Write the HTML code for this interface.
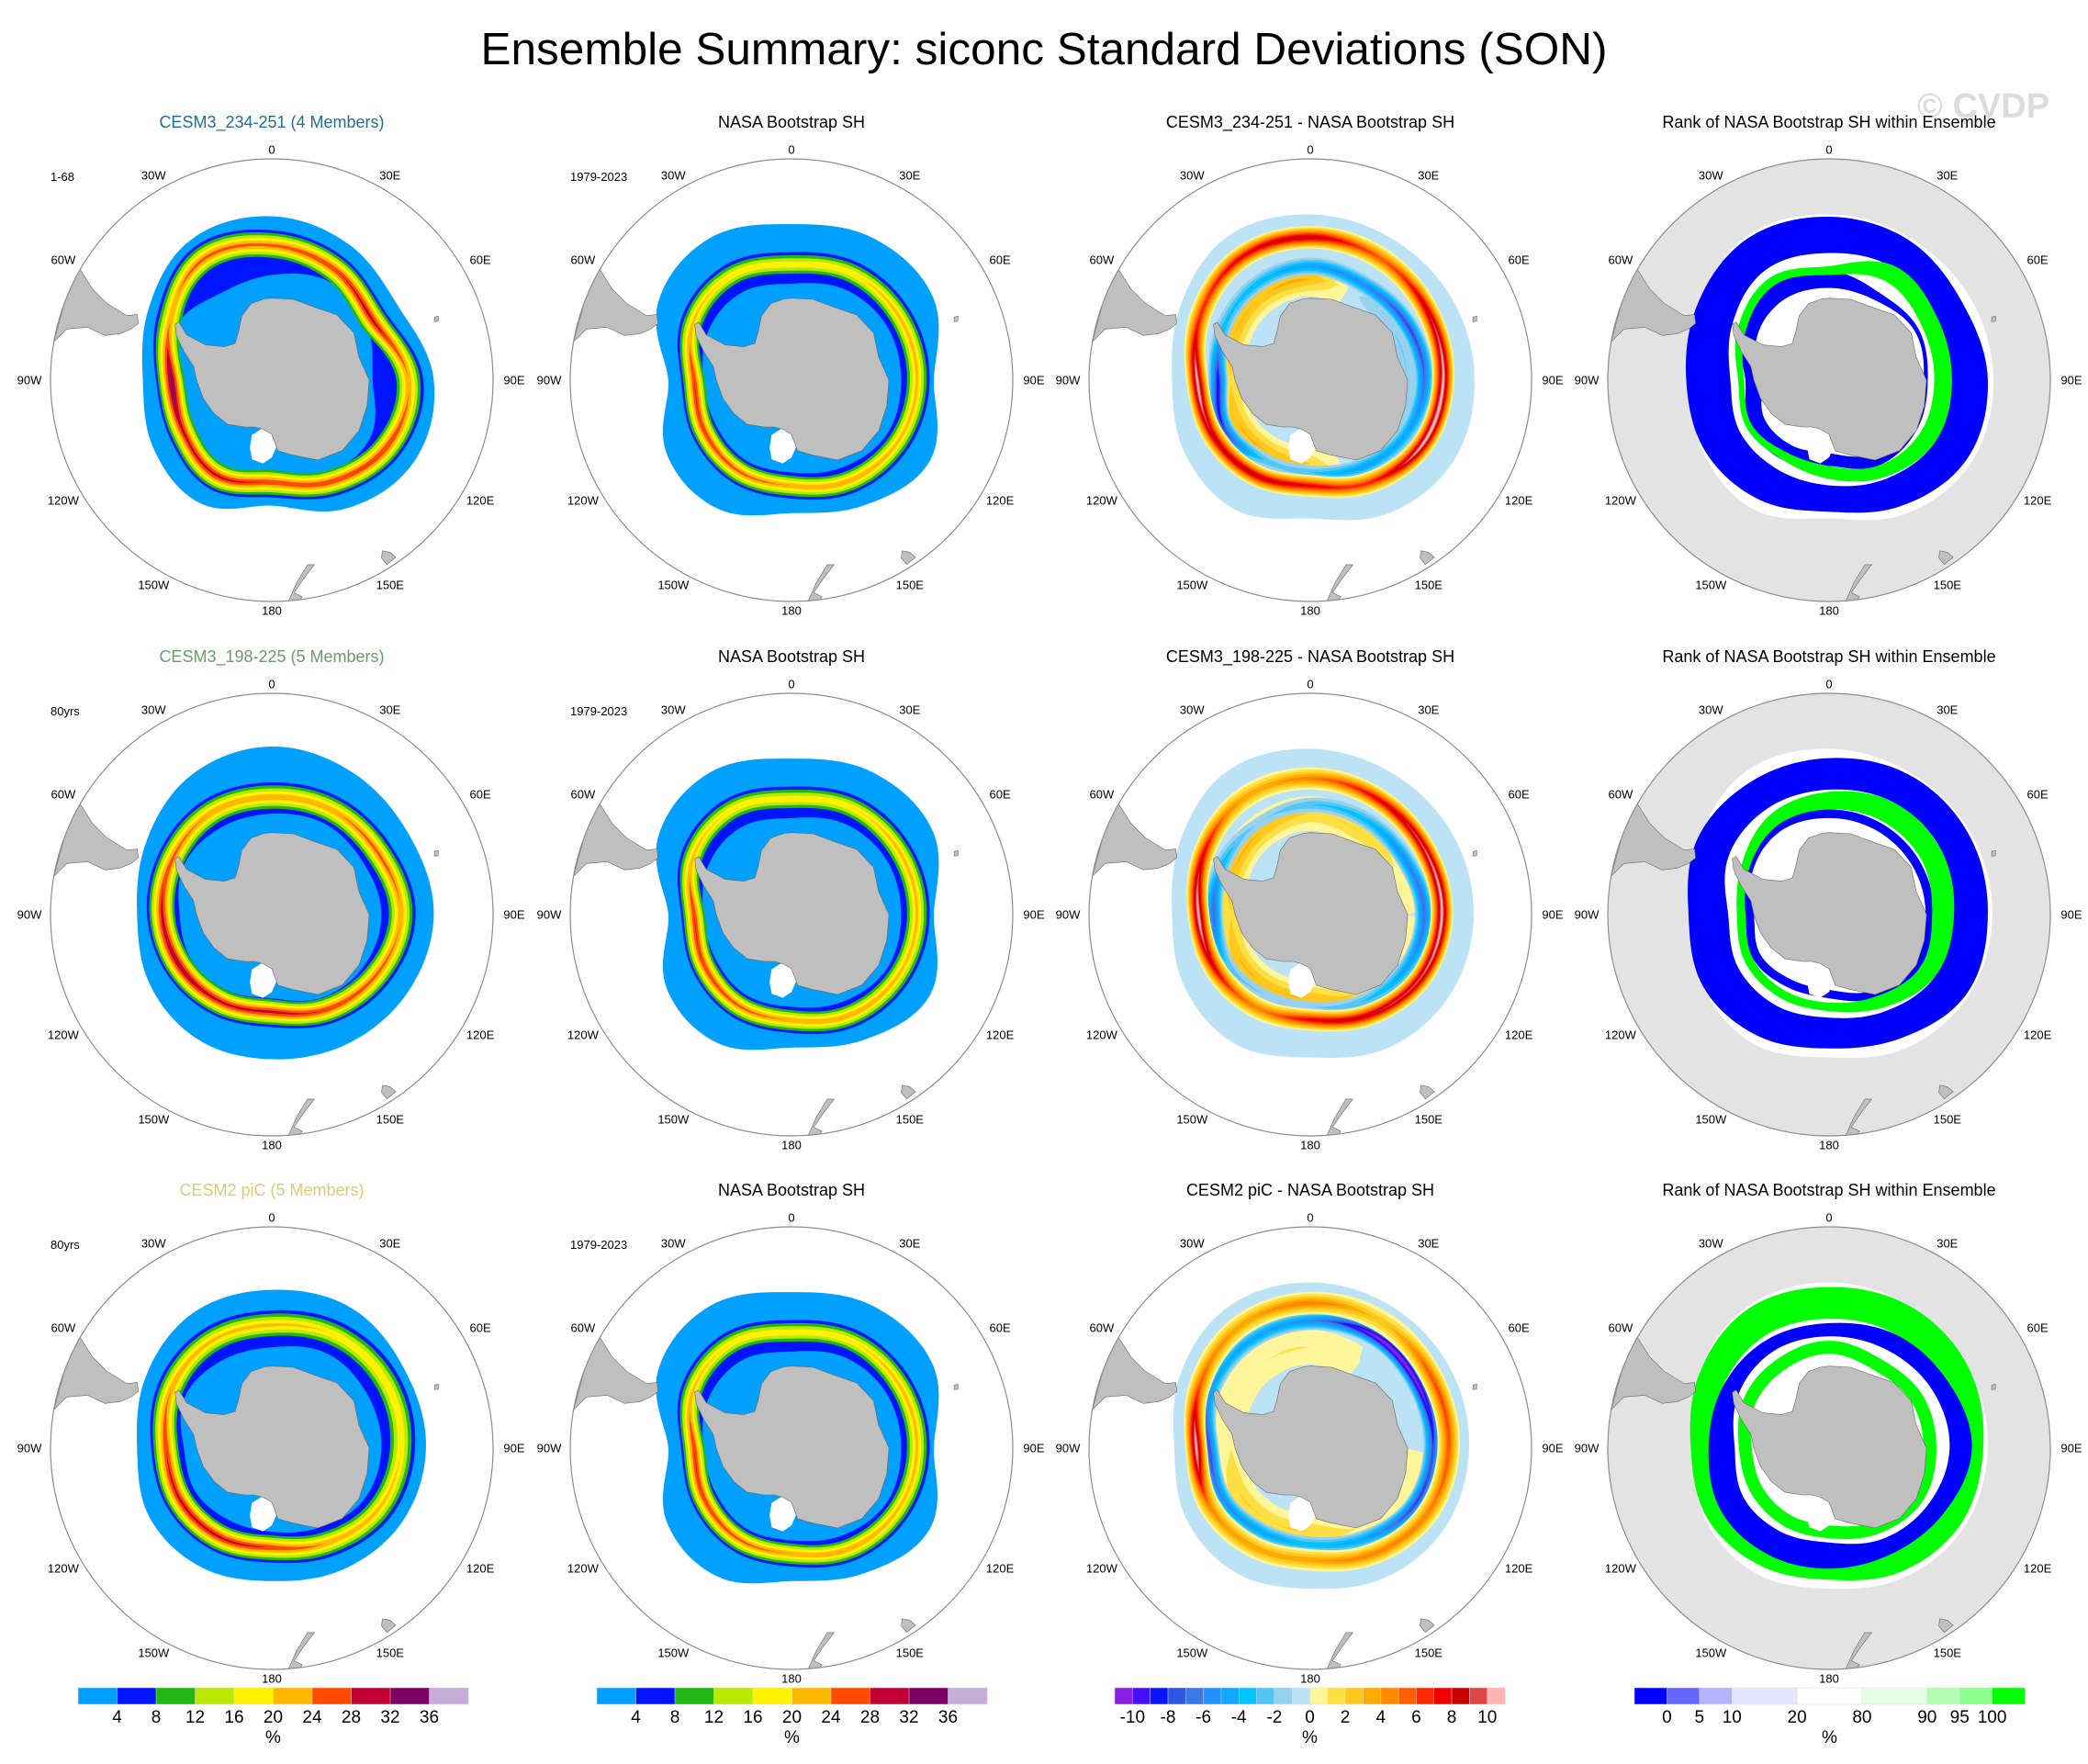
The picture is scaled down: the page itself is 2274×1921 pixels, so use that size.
<!DOCTYPE html>
<html><head><meta charset="utf-8"><style>
html,body{margin:0;padding:0;background:#fff;}
svg{display:block;font-family:"Liberation Sans",Arial,sans-serif;}
</style></head><body>
<svg id="fig" width="2274" height="1921" viewBox="0 0 2274 1921" xmlns="http://www.w3.org/2000/svg">
<rect x="0" y="0" width="2274" height="1921" fill="#fff"/>
<text x="2160" y="128" text-anchor="middle" font-size="38" font-weight="bold" fill="#dcdcdc">© CVDP</text>
<text x="1137" y="70" text-anchor="middle" font-size="49.5" fill="#000">Ensemble Summary: siconc Standard Deviations (SON)</text>
<defs id="defs"></defs>
</svg>
<script>
// ---------- data (lat per longitude 0,30E,...,180,150W,...,30W) ----------
const lonGrid=[0,30,60,90,120,150,180,210,240,270,300,330];
const sdLevels=[4,8,12,16,20,24,28,32,36];
const sdColors=["#00a0ff","#0014ff","#22b814","#bbe800","#fff200","#ffb900","#ff4b00","#c10034","#7d0066","#c6aed8"];
const sdTickLabels=["4","8","12","16","20","24","28","32","36"];
const dfColors=["#8a1ee6","#4510f5","#0a14ff","#2d55e6","#3a78e8","#2390ff","#14a5ff","#00c3ff","#55c5f5","#96d2f0","#bce2f5","#fff59a","#ffe044","#ffc81e","#ffaa00","#ff8a00","#ff5f00","#ff2a00","#f00000","#c80000","#dc4646","#ffb4b4"];
const dfTickLabels=["-10","-8","-6","-4","-2","0","2","4","6","8","10"];
const rkColors=["#0000ff","#6666ff","#b3b3ff","#e5e5ff","#ffffff","#e5ffe5","#b3ffb3","#8cff8c","#00ff00"];
const rkUnits=[1,1,1,2,2,2,1,1,1];
const rkTickLabels=["0","5","10","20","80","90","95","100"];

const m1Edge=[-51.9,-53.6,-55.7,-52.3,-51.9,-55.3,-60.4,-56.6,-57.9,-59.6,-56.6,-52.3];
const m1Peak=[-58.3,-60.0,-62.2,-57.9,-58.7,-62.2,-65.7,-63.9,-65.7,-66.1,-62.2,-57.4];
const m1Val=[26,28,30,24,28,28,28,30,30,34,24,26];
const m1Inner=[-65,-63,-64,-66,-63,-64,-65,-66,-67,-67,-64,-66];
const m2Edge=[-51,-52,-53,-52.3,-53.5,-55,-56.1,-56,-57,-58.3,-56,-52.5];
const m2Peak=[-62.2,-61.5,-61,-59.6,-61.5,-64,-66.8,-66,-65,-64,-63,-62];
const m2Val=[24,24,26,24,26,28,30,30,32,30,26,24];
const m2Inner=[-66,-65,-65,-64,-65,-67,-70,-69,-68,-68,-66,-66];
const m3Edge=[-53.1,-52.5,-54,-54,-55,-57,-58.7,-57.5,-57,-58.3,-56,-53.5];
const m3Peak=[-60.9,-59.5,-59,-59.6,-61,-64,-66.3,-65.5,-65,-64.9,-62.5,-61];
const m3Val=[22,20,20,20,22,24,28,30,30,28,24,22];
const m3Inner=[-66,-64,-64,-64,-65,-68,-70,-70,-69,-69,-66,-66];
const obsEdge=[-53.6,-51.9,-51.9,-56.6,-52.7,-56.1,-58.7,-55.3,-56.1,-60.9,-54.0,-51.9];
const obsPeak=[-62.6,-61,-60.5,-60.4,-61,-62.5,-64.9,-65,-66,-66.8,-63,-61.5];
const obsVal=[20,20,22,22,22,24,24,26,28,28,22,20];
const obsInner=[-67,-65,-64,-64,-64,-66,-68,-68,-69,-69,-67,-66];
const weakPeak=[-66,-67,-67,-67,-67,-68,-70,-70,-70,-71,-69,-67];
const d1Edge=[-51.5,-52,-52,-51.8,-51.8,-54,-57.5,-55,-56,-57.5,-55,-51.5];
const d1PosPeak=[-56.5,-57,-58,-58.7,-59.5,-62,-64.9,-64,-63.5,-63.2,-60,-57];
const d1PosVal=[9,6,9,11,11,7,8,9,9,11,7,8];
const d1NegPeak=[-63,-64,-63.5,-63,-64,-66,-68,-68,-66.5,-68,-66,-64];
const d1NegVal=[-5,-6,-8,-7,-5,-5,-3,-3,-8,-9,-4,-4];
const d1WeakVal=[3,-1,-2,-2,-2,-1,2,3,3,2,3,3];
const d2Edge=[-51.5,-52,-52,-52,-52.5,-54,-56.5,-55,-56,-57.5,-55,-51.5];
const d2PosPeak=[-58,-58.5,-59,-59,-60,-62.5,-65,-64.5,-64,-63.5,-61,-58.5];
const d2PosVal=[5,8,10,11,10,9,8,5,8,11,8,4];
const d2NegPeak=[-64,-64,-64,-63,-64,-66,-68,-68,-67,-67,-66,-65];
const d2NegVal=[-3,-4,-6,-7,-5,-3,-2,-2,-3,-7,-4,-2];
const d2WeakVal=[2,2,1,0,1,2,3,3,3,2,3,3];
const d3Edge=[-51.5,-52,-52.5,-53,-53.5,-55,-57,-56,-56.5,-58,-55,-52];
const d3PosPeak=[-56,-56,-57,-57.5,-58.5,-61,-63.5,-63,-62.5,-63,-60,-57];
const d3PosVal=[5,3,6,6,5,5,4,4,5,11,6,4];
const d3NegPeak=[-60,-59.5,-60.5,-61,-62,-65,-67,-67,-66,-66,-63,-61];
const d3NegVal=[-6,-11,-11,-8,-8,-5,-4,-5,-6,-8,-5,-5];
const d3WeakVal=[1,0,0,0,1,1,2,2,2,1,1,1];
const k1BluePeak=[-56,-56,-57.5,-57,-57,-59.5,-62,-61.5,-61,-61.5,-59,-56];
const k1BlueHw=[4,3.5,3.5,4,4,3.5,3,4,4.5,5,4.5,4];
const k1GreenPeak=[-64,-61,-62.5,-63,-63,-65,-68,-69,-68,-69,-66,-63];
const k1GreenHw=[1,2,2,2,2,1.5,1.5,1,0.7,0.7,1,1];
const k1Blue2Peak=[-66,-67,-66,-67,-67,-68,-71,-70,-70,-72,-68,-66];
const k1Blue2Hw=[2,1,0.5,0.5,1,1.5,1.5,2,2,2,2,2];
const k2BluePeak=[-57,-56,-56,-57,-57,-60,-62,-61,-60.5,-61.5,-58.5,-57.5];
const k2BlueHw=[3.5,3.5,3.5,4,4,3.5,3.5,4,4.5,4.5,4,3.5];
const k2GreenPeak=[-63,-62,-62,-63,-63,-66,-68,-68,-68,-69,-67,-64];
const k2GreenHw=[2,2.5,2.5,2.5,2,1.5,1,1,1,1,1,1.5];
const k2Blue2Peak=[-66,-66,-66,-66,-66,-68,-71,-71,-70,-71,-68,-66];
const k2Blue2Hw=[1,1,1,1,1,1,1,1,1,1,1,1];
const k3BluePeak=[-62,-61,-60,-59,-61,-63,-64.5,-64,-63.5,-64.5,-63,-62];
const k3BlueHw=[1.5,2,2,2.5,2,2,3,3,3,3,2,1.5];
const k3GreenPeak=[-56,-55.5,-56,-57,-57.5,-59.5,-61,-60,-59.5,-60,-58,-56];
const k3GreenHw=[3.5,3.5,3.5,3,3,3,2,2,2.5,2.5,3,3.5];
const k3Green2Peak=[-66,-67,-66,-66,-66,-68,-70,-70,-70,-70,-68,-67];
const k3Green2Hw=[1.5,1.5,1.5,1.5,1.5,1.5,1.5,1.5,1.5,1.5,1.5,1.5];
const coastLon=[0,15,30,45,60,75,90,105,120,135,150,165,175,180,190,200,210,225,240,255,270,280,288,295,300,302,298,298,305,315,325,335,345,355];
const coastLat=[-70.4,-70,-69.8,-68,-67.4,-68.5,-66.8,-66.5,-66,-66.3,-68,-71.5,-73,-77,-78,-78,-77,-75,-74,-73,-72,-71,-68,-65,-63.5,-64,-67,-72,-76,-77.5,-76,-73,-71,-70.5];
const shelfLon=[176,180,186,194,198,200,192,182];
const shelfLat=[-74,-71.5,-70,-70.5,-73,-76,-78,-78];
const samLon=[-80,-76,-74,-75,-73,-70,-67,-64,-66,-65,-63,-60,-57];
const samLat=[-40,-42,-46,-50,-53,-55,-56,-55,-53,-48,-44,-40,-38];
const nzLon=[172,174,171,167,169,173,176,176];
const nzLat=[-40.5,-41.5,-44,-46.5,-46.8,-43.5,-39.5,-37];
const tasLon=[145,148,148.3,147,145.5];
const tasLat=[-41,-40.8,-42.5,-43.6,-42.5];
const kerLon=[69,70.5,70.2,68.8];
const kerLat=[-48.8,-49.2,-50,-49.6];

const NS="http://www.w3.org/2000/svg";
const svg=document.getElementById("fig");
const defs=document.getElementById("defs");
const CX=[296,862,1427,1992], CY=[414,996,1577], R=241;
const T25=Math.tan(25*Math.PI/180);
function mk(tag,attrs,parent){const e=document.createElementNS(NS,tag);for(const k in attrs)e.setAttribute(k,attrs[k]);(parent||svg).appendChild(e);return e;}
function interp(arr,lon){
  let L=((lon%360)+360)%360; const t=L/30; const i=Math.floor(t)%12; const u=t-Math.floor(t);
  const p0=arr[(i+11)%12],p1=arr[i],p2=arr[(i+1)%12],p3=arr[(i+2)%12];
  return 0.5*((2*p1)+(-p0+p2)*u+(2*p0-5*p1+4*p2-p3)*u*u+(-p0+3*p1-3*p2+p3)*u*u*u);
}
function val(a,lon){return Array.isArray(a)?interp(a,lon):a;}
function proj(cx,cy,lat,lon){const f=Math.tan((90+lat)/2*Math.PI/180)/T25;const r=f*R;const a=lon*Math.PI/180;return [cx+r*Math.sin(a),cy-r*Math.cos(a)];}
function contour(cx,cy,fn){let d="";for(let k=0;k<=144;k++){const lon=k*2.5;const p=proj(cx,cy,fn(lon),lon);d+=(k?"L":"M")+p[0].toFixed(1)+" "+p[1].toFixed(1);}return d+"Z";}
function polyLL(cx,cy,lons,lats){let d="";for(let i=0;i<lons.length;i++){const p=proj(cx,cy,lats[i],lons[i]);d+=(i?"L":"M")+p[0].toFixed(1)+" "+p[1].toFixed(1);}return d+"Z";}
function band(g,cx,cy,pk,v,hw,t,color,name){
  const w=lon=>{const vv=val(v,lon);const frac=t>=0?(vv>t?1-t/vv:0):(vv<t?1-t/vv:0);return val(hw,lon)*Math.max(0,frac);};
  const d=contour(cx,cy,lon=>val(pk,lon)+w(lon))+contour(cx,cy,lon=>val(pk,lon)-w(lon));
  const p=mk("path",{d:d,fill:color,"fill-rule":"evenodd"},g);
  
  
}
function stdField(g,cx,cy,edge,pk,v,inner,hw){
  const b=mk("path",{d:contour(cx,cy,lon=>interp(edge,lon)),fill:sdColors[0]},g);
  
  
  const ib=mk("path",{d:contour(cx,cy,lon=>interp(pk,lon)+hw*(1-4/interp(v,lon)))+contour(cx,cy,lon=>interp(inner,lon)),fill:sdColors[1],"fill-rule":"evenodd"},g);
  
  
  for(let i=1;i<sdLevels.length;i++){band(g,cx,cy,pk,v,hw,sdLevels[i],sdColors[i+1],'std-band-'+sdLevels[i]);}
}
function diffField(g,cx,cy,edge,posPk,posV,negPk,negV,weakV){
  const b=mk("path",{d:contour(cx,cy,lon=>interp(edge,lon)),fill:dfColors[10]},g);
  
  
  const rings=[[weakPeak,weakV,4],[negPk,negV,2.5],[posPk,posV,2.5]];
  rings.forEach(rg=>{
    for(let t=0;t<=10;t++) band(g,cx,cy,rg[0],rg[1],rg[2],t,dfColors[11+t],'diff-band-pos-'+t);
    for(let t=-1;t>=-10;t--) band(g,cx,cy,rg[0],rg[1],rg[2],t,dfColors[10+t],'diff-band-neg-'+(-t));
  });
}
function rankField(g,cx,cy,edge,rings){
  const b=mk("path",{d:contour(cx,cy,lon=>interp(edge,lon)),fill:"#ffffff"},g);
  
  
  rings.forEach(rg=>{
    const d=contour(cx,cy,lon=>interp(rg[0],lon)+interp(rg[1],lon))+contour(cx,cy,lon=>interp(rg[0],lon)-interp(rg[1],lon));
    const p=mk("path",{d:d,fill:rg[2],"fill-rule":"evenodd"},g);
    
    
  });
}
const tickNames=[["0",0],["30E",30],["60E",60],["90E",90],["120E",120],["150E",150],["180",180],["150W",-150],["120W",-120],["90W",-90],["60W",-60],["30W",-30]];
const titles=[
 [["CESM3_234-251 (4 Members)","#1f6f8f"],["NASA Bootstrap SH","#000"],["CESM3_234-251 - NASA Bootstrap SH","#000"],["Rank of NASA Bootstrap SH within Ensemble","#000"]],
 [["CESM3_198-225 (5 Members)","#6b9a6b"],["NASA Bootstrap SH","#000"],["CESM3_198-225 - NASA Bootstrap SH","#000"],["Rank of NASA Bootstrap SH within Ensemble","#000"]],
 [["CESM2 piC (5 Members)","#d8cc7a"],["NASA Bootstrap SH","#000"],["CESM2 piC - NASA Bootstrap SH","#000"],["Rank of NASA Bootstrap SH within Ensemble","#000"]]];
const corner=[["1-68","1979-2023"],["80yrs","1979-2023"],["80yrs","1979-2023"]];
const models=[[m1Edge,m1Peak,m1Val,m1Inner],[m2Edge,m2Peak,m2Val,m2Inner],[m3Edge,m3Peak,m3Val,m3Inner]];
const diffs=[[d1Edge,d1PosPeak,d1PosVal,d1NegPeak,d1NegVal,d1WeakVal],[d2Edge,d2PosPeak,d2PosVal,d2NegPeak,d2NegVal,d2WeakVal],[d3Edge,d3PosPeak,d3PosVal,d3NegPeak,d3NegVal,d3WeakVal]];
const ranks=[
 [d1Edge,[[k1BluePeak,k1BlueHw,"#0000ff","rank-low-region"],[k1Blue2Peak,k1Blue2Hw,"#0000ff","rank-low-inner-region"],[k1GreenPeak,k1GreenHw,"#00ff00","rank-high-region"]]],
 [d2Edge,[[k2BluePeak,k2BlueHw,"#0000ff","rank-low-region"],[k2Blue2Peak,k2Blue2Hw,"#0000ff","rank-low-inner-region"],[k2GreenPeak,k2GreenHw,"#00ff00","rank-high-region"]]],
 [d3Edge,[[k3GreenPeak,k3GreenHw,"#00ff00","rank-high-region"],[k3BluePeak,k3BlueHw,"#0000ff","rank-low-region"],[k3Green2Peak,k3Green2Hw,"#00ff00","rank-high-inner-region"]]]];

for(let r=0;r<3;r++){for(let c=0;c<4;c++){
  const cx=CX[c], cy=CY[r];
  const panel=mk("g",{});
  
  
  const t=mk("text",{x:cx,y:cy-275,"text-anchor":"middle","font-size":18,fill:titles[r][c][1]},panel);
  t.textContent=titles[r][c][0];
  
  
  if(c<2){const ct=mk("text",{x:cx-241,y:cy-217,"font-size":13,fill:"#000"},panel);ct.textContent=corner[r][c];
    
    }
  const cp=mk("clipPath",{id:"clip"+r+c},defs);
  mk("circle",{cx:cx,cy:cy,r:R},cp);
  const g=mk("g",{"clip-path":"url(#clip"+r+c+")"},panel);
  
  
  if(c===3){const bg=mk("circle",{cx:cx,cy:cy,r:R,fill:"#e3e3e3"},g);
    
    }
  if(c===0){const m=models[r];stdField(g,cx,cy,m[0],m[1],m[2],m[3],4);}
  if(c===1){stdField(g,cx,cy,obsEdge,obsPeak,obsVal,obsInner,3.5);}
  if(c===2){const d=diffs[r];diffField(g,cx,cy,d[0],d[1],d[2],d[3],d[4],d[5]);}
  if(c===3){rankField(g,cx,cy,ranks[r][0],ranks[r][1]);}
  const sh=mk("path",{d:polyLL(cx,cy,shelfLon,shelfLat),fill:"#fff"},g);
  
  
  [[coastLon,coastLat,'antarctica'],[samLon,samLat,'south-america'],[nzLon,nzLat,'new-zealand'],[tasLon,tasLat,'tasmania'],[kerLon,kerLat,'kerguelen']].forEach(L=>{
    const p=mk("path",{d:polyLL(cx,cy,L[0],L[1]),fill:"#bfbfbf",stroke:"#666","stroke-width":0.6},g);
    
    
  });
  const ring=mk("circle",{cx:cx,cy:cy,r:R,fill:"none",stroke:"#8c8c8c","stroke-width":1.2},panel);
  
  
  tickNames.forEach(tk=>{const a=tk[1]*Math.PI/180;const rr=251+13*Math.abs(Math.sin(a));
    const tx=mk("text",{x:(cx+rr*Math.sin(a)).toFixed(1),y:(cy-rr*Math.cos(a)+4.5).toFixed(1),"text-anchor":"middle","font-size":13,fill:"#000"},panel);
    tx.textContent=tk[0];
    
    });
}}

const cbX=[85,650,1214,1780], cbW=425, cbY=1838, cbH=18;
function colorbar(i,colors,units,labels,labelAt){
  const g=mk("g",{});
  
  
  const tot=units.reduce((a,b)=>a+b,0);let acc=0;const bounds=[];
  colors.forEach((col,k)=>{const x=cbX[i]+acc/tot*cbW;const w=units[k]/tot*cbW;
    const rc=mk("rect",{x:x.toFixed(1),y:cbY,width:(w+0.3).toFixed(1),height:cbH,fill:col,stroke:"#ddd","stroke-width":0.5},g);
    
    
    acc+=units[k];bounds.push(cbX[i]+acc/tot*cbW);});
  labels.forEach((lb,k)=>{const tx=mk("text",{x:bounds[labelAt[k]].toFixed(1),y:cbY+cbH+20,"text-anchor":"middle","font-size":19,fill:"#000"},g);tx.textContent=lb;
    
    });
  const u=mk("text",{x:cbX[i]+cbW/2,y:cbY+cbH+42,"text-anchor":"middle","font-size":19,fill:"#000"},g);u.textContent="%";
  
  
}
colorbar(0,sdColors,sdColors.map(()=>1),sdTickLabels,sdTickLabels.map((_,k)=>k));
colorbar(1,sdColors,sdColors.map(()=>1),sdTickLabels,sdTickLabels.map((_,k)=>k));
colorbar(2,dfColors,dfColors.map(()=>1),dfTickLabels,dfTickLabels.map((_,k)=>2*k));
colorbar(3,rkColors,rkUnits,rkTickLabels,rkTickLabels.map((_,k)=>k));
</script>
</body></html>
